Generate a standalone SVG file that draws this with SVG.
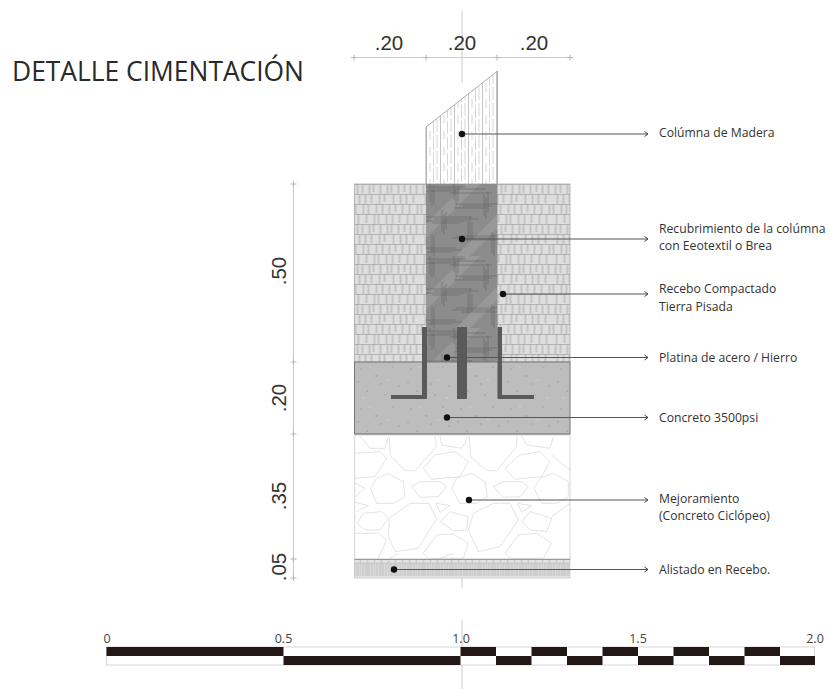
<svg xmlns="http://www.w3.org/2000/svg" width="830" height="689" viewBox="0 0 830 689">
<style>
.lbl{font-family:"Open Sans","Noto Sans",sans-serif;font-size:12.2px;fill:#333}
.dim{font-family:"Liberation Sans",Arial,sans-serif;font-size:20.5px;fill:#333}
.sc{font-family:"Open Sans","Noto Sans",sans-serif;font-size:12.5px;fill:#444}
.thin{stroke:#cacaca;stroke-width:1;fill:none}
.lead{stroke:#555;stroke-width:1.1;fill:none}
.rock{fill:none;stroke:#dcdcdc;stroke-width:2.4;stroke-linejoin:round}
.k{fill:#231815}
</style>
<defs>
<filter id="soft" x="-2%" y="-2%" width="104%" height="104%"><feGaussianBlur stdDeviation="0.35"/></filter>
<pattern id="soil" width="66" height="40" patternUnits="userSpaceOnUse" x="354.5" y="184">
<rect width="66" height="40" fill="#dedede"/>
<path d="M0 .5H66M0 10.500H66M0 20.500H66M0 30.500H66" stroke="#a2a2a2" stroke-width=".7"/>
<path d="M3 0V10M8 0V9M15 1V10M19 0V8M26 0V10M33 1V10M37 0V9M44 0V10M50 0V8M56 1V10M62 0V10M5 10V20M11 11V20M17 10V19M25 10V20M30 10V18M39 10V20M46 11V20M52 10V20M59 10V19M1 20V30M9 20V30M14 21V30M22 20V29M28 20V30M35 21V30M41 20V28M48 20V30M55 20V30M63 21V30M4 30V40M12 30V39M20 31V40M24 30V40M32 30V40M38 31V40M45 30V39M53 30V40M60 30V40" stroke="#9a9a9a" stroke-width=".8"/>
</pattern>
<pattern id="wood" width="14" height="16" patternUnits="userSpaceOnUse" x="426">
<rect width="14" height="16" fill="#fff"/>
<path d="M.5 0V16" stroke="#aaa" stroke-width=".7"/>
<path d="M7.500 0V6M7.500 9V16M4 3V12M11 0V4M11 7V16" stroke="#bbb" stroke-width=".6"/>
</pattern>
<pattern id="cover" width="72" height="72" patternUnits="userSpaceOnUse" x="426" y="184">
<rect width="72" height="72" fill="#8c8c8c"/>
<path d="M0 40L40 0H54L0 54ZM30 72L72 30V44L44 72Z" fill="#989898"/>
<path d="M0 3H40M10 5H60M0 7H30M24 9H66M30 20H72M36 22H66M28 24H60M0 33H46M8 35H52M0 37H40M6 39H34M30 52H72M26 54H66M36 56H70M0 64H30M4 66H36M2 68H26" stroke="#5c5c5c" stroke-width=".5"/>
<path d="M4 0V18M6 4V22M8 2V20M28 0V16M30 6V24M32 2V18M58 10V32M60 14V34M62 8V28M16 26V48M18 30V50M20 28V46M42 36V58M44 32V54M46 38V56M66 48V70M68 50V72M6 50V70M8 52V72" stroke="#5c5c5c" stroke-width=".5"/>
</pattern>
<pattern id="conc" width="50" height="40" patternUnits="userSpaceOnUse" x="354.5" y="362">
<rect width="50" height="40" fill="#bdbdbd"/>
<path d="M6 7h1M21 14h1.500M38 5h1M44 24h1M12 29h1.500M30 33h1M26 22h1M3 20h1" stroke="#8a8a8a" stroke-width="1"/>
<path d="M15 5h1M33 18h1M8 36h1M42 36h1" stroke="#e0e0e0" stroke-width="1"/>
</pattern>
<pattern id="ali" width="14" height="19" patternUnits="userSpaceOnUse" x="354.5" y="559">
<rect width="14" height="19" fill="#e2e2e2"/>
<path d="M1 4V17M3.500 4V17M6 1V17M8.500 4V17M11 4V17M13 1V17" stroke="#a8a8a8" stroke-width=".7"/>
<path d="M0 4H14" stroke="#bbb" stroke-width=".6"/>
</pattern>
<marker id="arr" markerWidth="8" markerHeight="8" refX="6.500" refY="4" orient="auto" markerUnits="userSpaceOnUse">
<path d="M3 1.500L6.500 4L3 6.500" fill="none" stroke="#444" stroke-width="1"/>
</marker>
</defs>
<rect width="830" height="689" fill="#fff"/>
<text x="12" y="81" font-family="'Open Sans','Noto Sans',sans-serif" font-size="28px" fill="#2a2a2a" textLength="292" lengthAdjust="spacingAndGlyphs">DETALLE CIMENTACIÓN</text>
<g id="axis" class="thin">
<path d="M462 11V83M462 133V184M462 434V588M462 620V689"/>
</g>
<g id="dimensions">
<path class="thin" d="M354 57.500H570M293.500 184V578"/>
<path d="M351 57.500h6M354 54.500v6M423 57.500h6M426 54.500v6M494 57.500h6M497 54.500v6M567 57.500h6M570 54.500v6M290.500 184h6M293.500 181v6M290.500 362h6M293.500 359v6M290.500 434h6M293.500 431v6M290.500 559h6M293.500 556v6M290.500 578h6M293.500 575v6" stroke="#b4b4b4" stroke-width="1" fill="none"/>
<text class="dim" x="389" y="50" text-anchor="middle">.20</text>
<text class="dim" x="462" y="50" text-anchor="middle">.20</text>
<text class="dim" x="534" y="50" text-anchor="middle">.20</text>
<text class="dim" transform="translate(286 271) rotate(-90)" text-anchor="middle">.50</text>
<text class="dim" transform="translate(286 398) rotate(-90)" text-anchor="middle">.20</text>
<text class="dim" transform="translate(286 496) rotate(-90)" text-anchor="middle">.35</text>
<text class="dim" transform="translate(286 567) rotate(-90)" text-anchor="middle">.05</text>
</g>
<g id="section" filter="url(#soft)">
<rect id="soil-layer" x="354.500" y="184" width="215.500" height="178" fill="url(#soil)" stroke="#aaa" stroke-width=".8"/>
<path id="wood-column" d="M426 127L497.500 71V184H426Z" fill="url(#wood)" stroke="#999" stroke-width=".8"/>
<rect id="cover-layer" x="426" y="184" width="71.500" height="178" fill="url(#cover)"/>
<rect id="concrete-layer" x="354.500" y="362" width="215.500" height="72" fill="url(#conc)" stroke="#777" stroke-width="1"/>
<g id="rocks" transform="translate(340 340) scale(.3333)">
<rect x="44" y="285" width="646" height="373" fill="#fff" stroke="#d6d6d6" stroke-width="3"/>
<path class="rock" d="M60 288L90 325H135L145 290M148 292L150 345L195 392H225L290 320L285 288M300 288L305 315L365 325L385 290M388 290L392 350L440 392H470L530 320V288M545 288L560 315L630 325L640 290M635 345L690 390M45 340L120 335L140 355L105 410L45 415M45 430L75 445L45 470M45 487L85 497L50 515M635 530L690 490M45 580H115L140 600L115 655M150 655L175 640M300 655L340 640"/>
<path class="rock" d="M250 385L285 345L345 335L385 365L360 410L275 418ZM495 385L540 345L600 335L630 365L605 410L525 418ZM92 445L110 415L145 400L190 425L195 470L160 490H110ZM215 440L240 425H300L320 440L295 470L240 472ZM335 445L350 415L395 400L435 425L442 470L410 490H360ZM460 440L490 425H545L565 440L540 470L490 472ZM582 445L600 415L640 400L685 425V470L650 490H605ZM288 490L330 497L300 517ZM532 490L575 497L545 517ZM52 550L70 520L125 515L145 535L120 570H75ZM148 535L210 490H265L290 535L235 625L165 635L145 590ZM300 545L330 515L385 530L380 570L340 572ZM385 570L400 520L460 490H510L535 540L480 620L415 635ZM545 545L570 515L635 535L620 575L570 570ZM250 640L290 585L340 582L385 610L370 655H265ZM495 640L535 585L590 580L635 610L610 655H510Z"/>
</g>
<path d="M354.500 434H570" stroke="#888" stroke-width="1"/>
<rect id="base-layer" x="354.500" y="559" width="215.500" height="19" fill="url(#ali)" stroke="#bbb" stroke-width=".6"/>
<path d="M354.500 559.500H570" stroke="#999" stroke-width="1"/>
<path id="plates" d="M422 327H427V395H427V399H391V395H422ZM497.500 327H502V395H534V399H497.500ZM457 327H467V399H457Z" fill="#5a5a5c"/>
</g>
<g id="connectors">
<path class="lead" marker-end="url(#arr)" d="M462 134H648"/>
<path class="lead" marker-end="url(#arr)" d="M462 239H648"/>
<path class="lead" marker-end="url(#arr)" d="M503 294H648"/>
<path class="lead" marker-end="url(#arr)" d="M447 357.500H648"/>
<path class="lead" marker-end="url(#arr)" d="M447 417.500H648"/>
<path class="lead" marker-end="url(#arr)" d="M469 500H648"/>
<path class="lead" marker-end="url(#arr)" d="M394 569.500H648"/>
<g fill="#111"><circle cx="462" cy="134" r="3.200"/><circle cx="462" cy="239" r="3.200"/><circle cx="503" cy="294" r="3.200"/><circle cx="447" cy="357.500" r="3.200"/><circle cx="447" cy="417.500" r="3.200"/><circle cx="469" cy="500" r="3.200"/><circle cx="394" cy="569.500" r="3.200"/></g>
</g>
<g id="labels">
<text class="lbl" x="659" y="137">Colúmna de Madera</text>
<text class="lbl" x="659" y="233">Recubrimiento de la colúmna</text>
<text class="lbl" x="659" y="250">con Eeotextil o Brea</text>
<text class="lbl" x="659" y="293">Recebo Compactado</text>
<text class="lbl" x="659" y="311">Tierra Pisada</text>
<text class="lbl" x="659" y="361.500">Platina de acero / Hierro</text>
<text class="lbl" x="659" y="421.500">Concreto 3500psi</text>
<text class="lbl" x="659" y="503">Mejoramiento</text>
<text class="lbl" x="659" y="520">(Concreto Ciclópeo)</text>
<text class="lbl" x="659" y="573.500">Alistado en Recebo.</text>
</g>
<g id="scale-bar">
<rect x="106.500" y="647" width="708" height="18" fill="#fff" stroke="#ccc" stroke-width=".8"/>
<path class="k" d="M106.500 647H283.500V656H106.500ZM283.500 656H460.500V665H283.500ZM460.500 647H496V656H460.500ZM496 656H531.500V665H496ZM531.500 647H567V656H531.500ZM567 656H602.500V665H567ZM602.500 647H638V656H602.500ZM638 656H673.500V665H638ZM673.500 647H709V656H673.500ZM709 656H744.500V665H709ZM744.500 647H780V656H744.500ZM780 656H815V665H780Z"/>
<text class="sc" x="107" y="642.500" text-anchor="middle">0</text>
<text class="sc" x="283.500" y="642.500" text-anchor="middle">0.5</text>
<text class="sc" x="461" y="642.500" text-anchor="middle">1.0</text>
<text class="sc" x="638" y="642.500" text-anchor="middle">1.5</text>
<text class="sc" x="815" y="642.500" text-anchor="middle">2.0</text>
</g>
</svg>
